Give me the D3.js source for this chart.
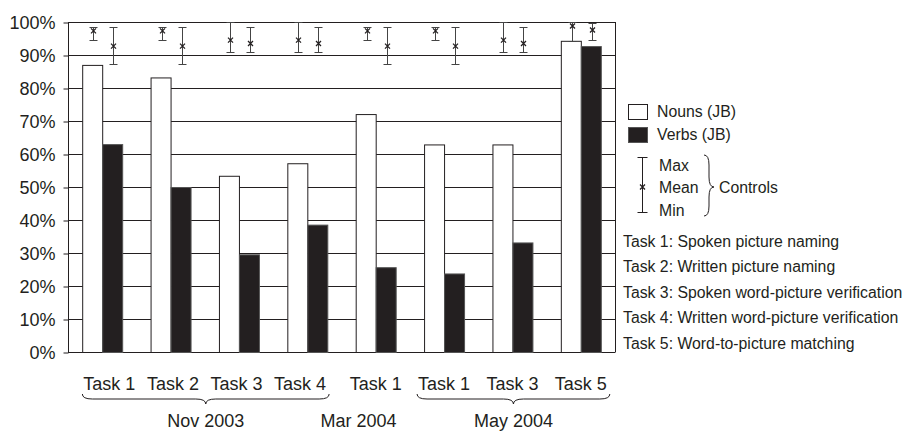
<!DOCTYPE html>
<html><head><meta charset="utf-8">
<script src="https://cdn.jsdelivr.net/npm/d3@7"></script>
<style>
html,body{margin:0;padding:0;background:#fff;}
svg{display:block;font-family:"Liberation Sans",Arial,Helvetica,sans-serif;}
</style></head>
<body><svg id="chart" width="908" height="432"></svg>
<script>
// ---- data ----
const categories = ["Task 1","Task 2","Task 3","Task 4","Task 1","Task 1","Task 3","Task 5"];
const sessions   = ["Nov 2003","Nov 2003","Nov 2003","Nov 2003","Mar 2004","May 2004","May 2004","May 2004"];
const nouns = [87, 83.2, 53.4, 57.2, 72.1, 62.9, 62.9, 94.3];
const verbs = [63, 50, 29.6, 38.6, 25.7, 23.8, 33.2, 92.7];
const nounsCtrlMax  = [98.6, 98.6, 100, 100, 98.6, 98.6, 100, 100];
const nounsCtrlMean = [97.3, 97.3, 94.5, 94.5, 97.3, 97.3, 94.5, 98.8];
const nounsCtrlMin  = [94.6, 94.6, 90.8, 90.8, 94.6, 94.6, 90.8, 94.3];
const verbsCtrlMax  = [98.6, 98.6, 98.6, 98.6, 98.6, 98.6, 98.6, 99.7];
const verbsCtrlMean = [92.7, 92.7, 93.5, 93.5, 92.7, 92.7, 93.5, 97.6];
const verbsCtrlMin  = [87.3, 87.3, 90.8, 90.8, 87.3, 87.3, 90.8, 94.5];
const yTicks = [0,10,20,30,40,50,60,70,80,90,100];
const seriesNames = ["Nouns (JB)","Verbs (JB)"];
const controlLabels = ["Max","Mean","Min"];
const controlsTitle = "Controls";
const taskNotes = ["Task 1: Spoken picture naming","Task 2: Written picture naming",
  "Task 3: Spoken word-picture verification","Task 4: Written word-picture verification",
  "Task 5: Word-to-picture matching"];

// ---- layout ----
const INK = "#231f20";
const svg = d3.select("#chart");
const M = {left:68, right:615, top:22, bottom:352};
const idx = d3.range(categories.length);
const y = d3.scaleLinear().domain([0,100]).range([M.bottom, M.top]);
const x0 = d3.scaleBand().domain(idx).range([M.left, M.right]).padding(0);
const x1 = d3.scaleBand().domain(["n","v"]).range([0, x0.bandwidth()]).paddingInner(0).paddingOuter(0.71);

// gridlines
svg.append("g").selectAll("line").data(yTicks).join("line")
  .attr("x1", M.left).attr("x2", M.right)
  .attr("y1", d=>y(d)+0.5).attr("y2", d=>y(d)+0.5)
  .attr("stroke", INK).attr("stroke-width", 1);

// y axis
const yAxis = d3.axisLeft(y).tickValues(yTicks).tickFormat(d=>d+"%").tickSize(5).tickPadding(8);
const ga = svg.append("g").attr("transform",`translate(${M.left+0.5},0.5)`).call(yAxis);
ga.select(".domain").attr("stroke", INK).attr("d", `M0,${M.top}V${M.bottom}`);
ga.selectAll(".tick line").attr("stroke", INK);
ga.selectAll(".tick text").attr("fill", INK).style("font-size","18px").attr("dy","0.34em")
  .style("font-family",'"Liberation Sans",Arial,sans-serif');

// right border
svg.append("line").attr("x1", M.right+0.5).attr("x2", M.right+0.5).attr("y1", M.top).attr("y2", M.bottom+0.5)
  .attr("stroke", INK);

// bars
const barData = [];
idx.forEach(i=>{
  barData.push({i, k:"n", v:nouns[i], max:nounsCtrlMax[i], mean:nounsCtrlMean[i], min:nounsCtrlMin[i]});
  barData.push({i, k:"v", v:verbs[i], max:verbsCtrlMax[i], mean:verbsCtrlMean[i], min:verbsCtrlMin[i]});
});
svg.append("g").selectAll("rect").data(barData).join("rect")
  .attr("x", d=>x0(d.i)+x1(d.k)+0.5)
  .attr("y", d=>y(d.v)+0.5)
  .attr("width", x1.bandwidth())
  .attr("height", d=>y(0)-y(d.v))
  .attr("fill", d=>d.k==="n" ? "#fff" : INK)
  .attr("stroke", d=>d.k==="n" ? INK : "#555")
  .attr("stroke-width", 1);

// control error bars
const cap = 4, mk = 2.5;
const eb = svg.append("g").attr("stroke", INK).attr("stroke-width", 1).attr("fill","none");
barData.forEach(d=>{
  const cx = Math.round(x0(d.i)+x1(d.k)+x1.bandwidth()/2+1)+0.5;
  const t = Math.round(y(d.max))+0.5, b = Math.round(y(d.min))+0.5, m = y(d.mean);
  eb.append("path").attr("d",`M${cx},${t}V${b}M${cx-cap},${t}H${cx+cap}M${cx-cap},${b}H${cx+cap}`).attr("stroke","#444");
  eb.append("path").attr("d",`M${cx-mk},${m-mk}L${cx+mk},${m+mk}M${cx-mk},${m+mk}L${cx+mk},${m-mk}`).attr("stroke-width",1.3);
});

// category labels
const sessNames = Array.from(new Set(sessions));
const catLabelX = i=>{
  const members = idx.filter(j=>sessions[j]===sessions[i]);
  const c = x0(i)+x0.bandwidth()/2;
  if (members.length===4){
    const mid = d3.mean(members, j=>x0(j)+x0.bandwidth()/2);
    return mid + (c-mid)*0.93;
  }
  return c;
};
const catG = svg.append("g");
const catTexts = catG.selectAll("text").data(idx).join("text")
  .attr("x", i=>catLabelX(i)).attr("y", 390)
  .attr("text-anchor","middle").attr("fill", INK).style("font-size","18px")
  .text(i=>categories[i]);

// session braces and labels
const braceH = (x1b, x2b, yb, h) => {
  const mid = (x1b+x2b)/2, r = h/2;
  return `M${x1b},${yb} Q${x1b},${yb+r} ${x1b+r*2},${yb+r} L${mid-r*2},${yb+r} Q${mid},${yb+r} ${mid},${yb+h}`+
         ` Q${mid},${yb+r} ${mid+r*2},${yb+r} L${x2b-r*2},${yb+r} Q${x2b},${yb+r} ${x2b},${yb}`;
};
sessNames.forEach(s=>{
  const members = idx.filter(j=>sessions[j]===s);
  let lx;
  if (members.length>1){
    const nodes = catTexts.filter(i=>sessions[i]===s).nodes();
    const bb1 = nodes[0].getBBox(), bb2 = nodes[nodes.length-1].getBBox();
    const bx1 = bb1.x-1, bx2 = bb2.x+bb2.width+3;
    svg.append("path").attr("d", braceH(bx1, bx2, 394, 10)).attr("fill","none").attr("stroke", INK).attr("stroke-width",1);
    lx = (bx1+bx2)/2;
  } else {
    lx = x0(members[0]) + x0.bandwidth()*0.25;
  }
  svg.append("text").attr("x", lx).attr("y", 427).attr("text-anchor","middle")
    .attr("fill", INK).style("font-size","18px").text(s);
});

// legend
const lg = svg.append("g").style("font-size","15.8px").attr("fill", INK);
const boxX = 628;
[["#fff",104,INK],[INK,127,"#555"]].forEach((c,k)=>{
  lg.append("rect").attr("x", boxX+0.5).attr("y", c[1]+0.5).attr("width",19).attr("height",15)
    .attr("fill", c[0]).attr("stroke", c[2]);
  lg.append("text").attr("x", 657).attr("y", c[1]+12.5).text(seriesNames[k]);
});
// legend error bar
const lx = 642.5, lt = 157.5, lb = 212.5, lm = 187;
lg.append("path").attr("d",`M${lx},${lt}V${lb}M${lx-5},${lt}H${lx+5}M${lx-5},${lb}H${lx+5}`).attr("stroke", INK).attr("fill","none");
lg.append("path").attr("d",`M${lx-mk},${lm-mk}L${lx+mk},${lm+mk}M${lx-mk},${lm+mk}L${lx+mk},${lm-mk}`).attr("stroke", INK).attr("stroke-width",1.3);
controlLabels.forEach((t,k)=>{
  lg.append("text").attr("x", 659).attr("y", 170.5+k*22.7).text(t);
});
// vertical brace
const bxL = 704, bTop = 155, bBot = 216, bMid = 187, bw = 5;
lg.append("path").attr("fill","none").attr("stroke", INK)
  .attr("d", `M${bxL},${bTop} Q${bxL+bw},${bTop} ${bxL+bw},${bTop+bw*2} L${bxL+bw},${bMid-bw*2} Q${bxL+bw},${bMid} ${bxL+bw*2},${bMid}`+
             ` Q${bxL+bw},${bMid} ${bxL+bw},${bMid+bw*2} L${bxL+bw},${bBot-bw*2} Q${bxL+bw},${bBot} ${bxL},${bBot}`);
lg.append("text").attr("x", 719).attr("y", 193).text(controlsTitle);
taskNotes.forEach((t,k)=>{
  lg.append("text").attr("x", 623).attr("y", 246.5+k*25.6).text(t);
});
</script></body></html>
